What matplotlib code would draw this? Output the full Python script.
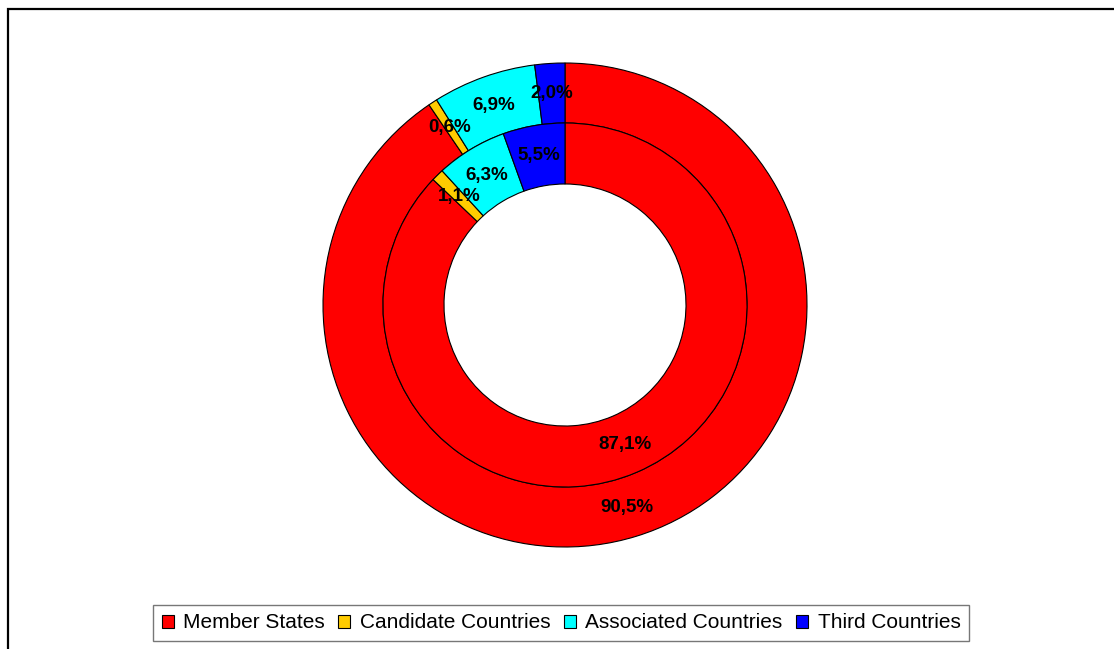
import matplotlib
matplotlib.use("Agg")
import matplotlib.pyplot as plt
from matplotlib.patches import Patch, Rectangle
import numpy as np

categories = ["Member States", "Candidate Countries", "Associated Countries", "Third Countries"]
outer_values = [90.5, 0.6, 6.9, 2.0]
inner_values = [87.1, 1.1, 6.3, 5.5]
colors = ["#FF0000", "#FFCC00", "#00FFFF", "#0000FF"]

W, H = 1114, 649
fig = plt.figure(figsize=(W / 100, H / 100), dpi=100)
fig.patch.set_facecolor("white")

# outer frame
fig.patches.append(Rectangle((8 / W, -0.05), 1.2, 1 - 9 / H + 0.05, transform=fig.transFigure,
                             fill=False, edgecolor="black", linewidth=1.6, zorder=0))

cx, cy, R = 565, 305, 242
ax = fig.add_axes([(cx - R) / W, (H - cy - R) / H, 2 * R / W, 2 * R / H])
ax.set_xlim(-1, 1)
ax.set_ylim(-1, 1)
ax.set_aspect("equal")
ax.axis("off")

r_out, r_mid, r_in = 1.0, 182 / R, 121 / R
wp = dict(edgecolor="black", linewidth=0.8)

wo, _ = ax.pie(outer_values, colors=colors, radius=r_out, startangle=90, counterclock=False,
               wedgeprops=dict(width=r_out - r_mid, **wp))
wi, _ = ax.pie(inner_values, colors=colors, radius=r_mid, startangle=90, counterclock=False,
               wedgeprops=dict(width=r_mid - r_in, **wp))
ax.set_xlim(-1, 1)
ax.set_ylim(-1, 1)

def label(wedges, values, rr):
    for w, v in zip(wedges, values):
        ang = np.deg2rad((w.theta1 + w.theta2) / 2)
        txt = f"{v:.1f}%".replace(".", ",")
        ax.text(rr * np.cos(ang), rr * np.sin(ang), txt, ha="center", va="center",
                fontsize=13.5, fontweight="bold", family="Liberation Sans", color="black")

label(wo, outer_values, (r_out + r_mid) / 2)
label(wi, inner_values, (r_mid + r_in) / 2)

handles = [Patch(facecolor=c, edgecolor="black", linewidth=0.8) for c in colors]
leg = fig.legend(handles, categories, loc="center", bbox_to_anchor=(561 / W, 1 - 623 / H),
                 ncol=4, frameon=True, fancybox=False, shadow=False,
                 prop=dict(family="Liberation Sans", size=15),
                 handlelength=0.58, handleheight=0.58, handletextpad=0.45, columnspacing=0.65,
                 borderpad=0.42, borderaxespad=0)
leg.get_frame().set_edgecolor("#555555")
leg.get_frame().set_linewidth(1.0)

fig.savefig("out.png", dpi=100, facecolor="white")
